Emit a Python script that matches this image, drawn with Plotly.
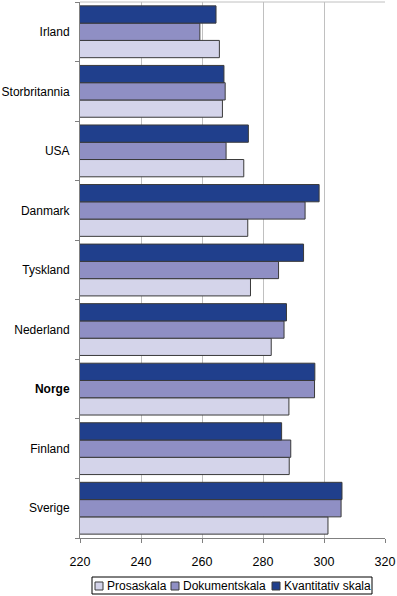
import plotly.graph_objects as go

countries = ["Irland", "Storbritannia", "USA", "Danmark", "Tyskland",
             "Nederland", "<b>Norge</b>", "Finland", "Sverige"]
prosa = [265.7, 266.7, 273.7, 275.0, 275.9, 282.7, 288.5, 288.6, 301.3]
dokument = [259.3, 267.6, 267.9, 293.8, 285.1, 286.9, 296.9, 289.1, 305.6]
kvant = [264.6, 267.2, 275.2, 298.4, 293.3, 287.7, 297.0, 286.1, 305.9]
x_ticks = [220, 240, 260, 280, 300, 320]

series_names = ["Prosaskala", "Dokumentskala", "Kvantitativ skala"]
series_vals = [prosa, dokument, kvant]
colors = ["#D4D4EA", "#8F8FC4", "#203F8C"]

# bottom-to-top order for plotly category axis
cats_bt = countries[::-1]

fig = go.Figure()
for name, vals, col in zip(series_names, series_vals, colors):
    fig.add_trace(go.Bar(
        y=cats_bt, x=vals[::-1], name=name, orientation="h",
        marker=dict(color=col, line=dict(color="#3A3A3A", width=1)),
        showlegend=False, hoverinfo="skip",
    ))

# custom compact legend (paper coords; plot area spans x 80..385, y 2..538 px)
W, H = 305.0, 536.0
def px_x(p):
    return (p - 80) / W
def px_y(p):
    return (538 - p) / H

shapes = [
    dict(type="line", xref="paper", yref="paper", x0=0, x1=1, y0=1, y1=1,
         line=dict(color="#C0C0C0", width=1)),
    dict(type="rect", xref="paper", yref="paper",
         x0=px_x(92), x1=px_x(372), y0=px_y(577), y1=px_y(594),
         line=dict(color="black", width=1), fillcolor="white", layer="above"),
]
annotations = []
sq_x = [95, 171, 272]
for name, col, sx in zip(series_names, colors, sq_x):
    shapes.append(dict(type="rect", xref="paper", yref="paper",
                       x0=px_x(sx), x1=px_x(sx + 8), y0=px_y(582), y1=px_y(590),
                       line=dict(color="#3A3A3A", width=1), fillcolor=col, layer="above"))
    annotations.append(dict(text=name, xref="paper", yref="paper",
                            x=px_x(sx + 10), y=px_y(585.5), xanchor="left", yanchor="middle",
                            showarrow=False, font=dict(size=12, color="black")))

fig.update_layout(
    width=397, height=596,
    margin=dict(l=80, r=12, t=2, b=58, autoexpand=False),
    barmode="group", bargap=0.13, bargroupgap=0,
    paper_bgcolor="white", plot_bgcolor="white",
    font=dict(family="Liberation Sans, Arial, sans-serif", size=12, color="black"),
    showlegend=False,
    xaxis=dict(range=[220, 320], tickvals=x_ticks, showgrid=True,
               gridcolor="#C0C0C0", gridwidth=1, showline=True, linecolor="#808080",
               ticks="outside", ticklen=4, tickcolor="#808080",
               zeroline=False, automargin=False, ticklabelstandoff=8,
               tickfont=dict(size=12.5)),
    yaxis=dict(categoryorder="array", categoryarray=cats_bt,
               showline=True, linecolor="#808080", ticks="outside", ticklen=4,
               tickcolor="#808080", tickson="boundaries", showgrid=False,
               ticklabelstandoff=7, automargin=False,
               tickfont=dict(size=12)),
    shapes=shapes,
    annotations=annotations,
)

fig.write_html("out.html",
               config={"displayModeBar": False},
               post_script="document.body.style.margin='0';document.body.style.overflow='hidden';")
